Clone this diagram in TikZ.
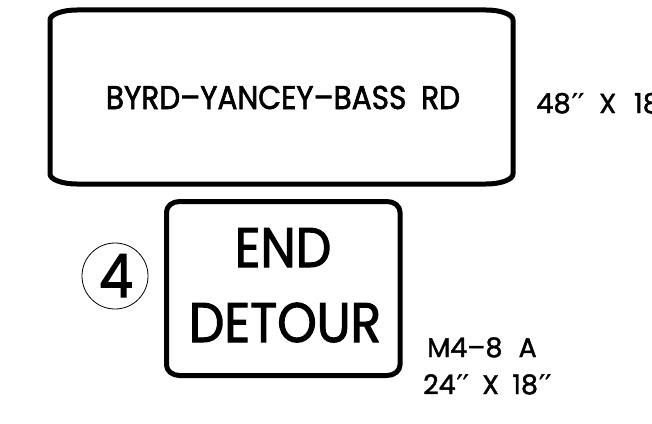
\documentclass[tikz,border=0pt]{standalone}
\usepackage{fontspec}
\setmainfont{Poppins}[FakeBold=1.6,UprightFont=*,BoldFont=*]
\newfontfamily\signfont{Poppins}[FakeBold=1.6]
\newfontfamily\narrowfont{Poppins}[FakeStretch=0.9,FakeBold=1.8]
\newfontfamily\primefont{DejaVu Sans}[FakeBold=1.2]
\newcommand{\signbox}[6]{% x1 y1 x2 y2 rx ry
  \draw[signline] (#1+#5,#4) -- (#3-#5,#4)
    arc[start angle=90,end angle=0,x radius=#5,y radius=#6]
    -- (#3,#2+#6)
    arc[start angle=0,end angle=-90,x radius=#5,y radius=#6]
    -- (#1+#5,#2)
    arc[start angle=270,end angle=180,x radius=#5,y radius=#6]
    -- (#1,#4-#6)
    arc[start angle=180,end angle=90,x radius=#5,y radius=#6]
    -- cycle;}
\newcommand{\inch}{\kern1pt{\primefont ′′}}
\tikzset{
  signline/.style={line width=5bp, line join=round},
  txt/.style={inner sep=0pt, anchor=base},
  lbl/.style={inner sep=0pt, anchor=base west}
}
\begin{document}
\begin{tikzpicture}[x=1bp,y=1bp]
\useasboundingbox (0,0) rectangle (652,423);
% big sign 48 x 18
\signbox{50}{239}{513}{413}{27}{10}
\node[txt] (bigtext) at (283,314) {\narrowfont\fontsize{33}{35}\selectfont BYRD–YANCEY–BASS\hspace{0.45em}RD};
\node[lbl] (bigsize) at (536,310) {\signfont\fontsize{27.5}{29}\selectfont 48\inch\hspace{0.55em}X\hspace{0.65em}18\inch};
% small sign M4-8a
\signbox{166.5}{47.5}{400}{221.5}{13}{10.5}
\node[txt] (end) at (283,156) {\narrowfont\fontsize{56}{60}\selectfont END};
\node[txt] (detour) at (285,81) {\narrowfont\fontsize{56}{60}\selectfont DETOUR};
\node[draw, circle, line width=0.8bp, minimum size=66bp, inner sep=0pt] (num) at (115,147) {};
\node[txt] (four) at (116,126) {\narrowfont\fontsize{60}{62}\selectfont 4};
\node[lbl] (code) at (427,66) {\signfont\fontsize{27}{29}\selectfont M4–8\hspace{0.6em}A};
\node[lbl] (size) at (423,29) {\signfont\fontsize{27}{29}\selectfont 24\inch\hspace{0.5em}X\hspace{0.5em}18\inch};
\end{tikzpicture}
\end{document}
